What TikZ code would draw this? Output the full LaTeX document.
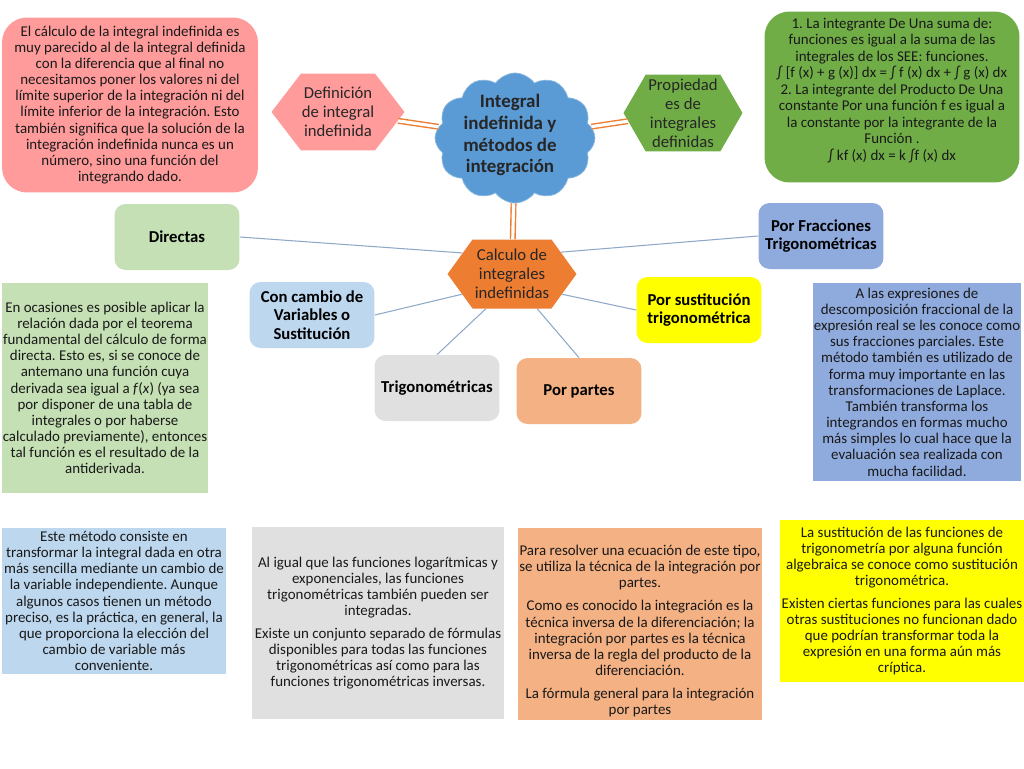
\documentclass[tikz,border=0pt]{standalone}
\usepackage{fontspec}
\setmainfont{Carlito}
\usetikzlibrary{shapes.symbols}
\frenchspacing
\definecolor{pinkFill}{HTML}{FF9B9B}
\definecolor{greenFill}{HTML}{70AD47}
\definecolor{cloudBlue}{HTML}{5B9BD5}
\definecolor{calcOrange}{HTML}{ED7D31}
\definecolor{lightGreen}{HTML}{C5E0B4}
\definecolor{lightBlue}{HTML}{BDD7EE}
\definecolor{lightGray}{HTML}{E0E0E0}
\definecolor{peachFill}{HTML}{F4B183}
\definecolor{yellowFill}{HTML}{FFFF00}
\definecolor{fracBlue}{HTML}{8FAADC}
\definecolor{orangeLine}{HTML}{ED7D31}
\definecolor{linkBlue}{HTML}{8EA9C8}
\begin{document}
\begin{tikzpicture}[x=0.02cm, y=-0.02cm,
    textBox/.style={rectangle, inner sep=0pt, align=center, text=black!90, font=\fontsize{8.5}{9.2}\selectfont},
    hexStyle/.style={signal, signal to=east and west, signal pointer angle=105, inner sep=0pt, align=center, text=black!85, font=\fontsize{9.5}{10.8}\selectfont},
    methodBox/.style={rectangle, rounded corners=0.22cm, minimum width=2.5cm, minimum height=1.32cm, inner sep=0pt, align=center, font=\bfseries\fontsize{9.5}{10.6}\selectfont},
    dblLink/.style={draw=orangeLine, line width=0.8pt, double=white, double distance=1.8pt},
    thinLink/.style={draw=linkBlue, line width=0.6pt}]

    \useasboundingbox[fill=white] (0,0) rectangle (1024,768);

    % centre
    \node[cloud, cloud puffs=12, cloud puff arc=110, aspect=1.2, fill=cloudBlue, draw=cloudBlue!70!white, minimum width=3.2cm, minimum height=2.6cm](cloud) at (515, 138) {};
    \node[align=center, font=\bfseries\fontsize{10.8}{12.5}\selectfont, text=black!85](cloudText) at (510, 135) {Integral\\indefinida y\\métodos de\\integración};

    \node[hexStyle, fill=pinkFill, minimum width=2.66cm, minimum height=1.54cm](defHex) at (338, 112) {Definición\\de integral\\indefinida};
    \node[hexStyle, fill=greenFill, signal pointer angle=120, minimum width=2.38cm, minimum height=1.54cm](propHex) at (683, 113) {Propiedad\\es de\\integrales\\definidas};
    \node[hexStyle, fill=calcOrange, signal pointer angle=108, minimum width=2.58cm, minimum height=1.38cm](calc) at (512, 274) {Calculo de\\integrales\\indefinidas};

    \node[textBox, fill=pinkFill, rounded corners=0.5cm, minimum width=5.12cm, minimum height=3.5cm](defText) at (130, 105) {El cálculo de la integral indefinida es\\muy parecido al de la integral definida\\con la diferencia que al final no\\necesitamos poner los valores ni del\\límite superior de la integración ni del\\límite inferior de la integración. Esto\\también significa que la solución de la\\integración indefinida nunca es un\\número, sino una función del\\integrando dado.};
    \node[textBox, fill=greenFill, rounded corners=0.5cm, minimum width=5.1cm, minimum height=3.42cm, font=\fontsize{8.5}{9.4}\selectfont](propText) at (892, 97) {1. La integrante De Una suma de:\\funciones es igual a la suma de las\\integrales de los SEE: funciones.\\∫ [f (x) + g (x)] dx = ∫ f (x) dx + ∫ g (x) dx\\2. La integrante del Producto De Una\\constante Por una función f es igual a\\la constante por la integrante de la\\Función .\\∫ kf (x) dx = k ∫f (x) dx\rule[-9pt]{0pt}{0pt}};

    % metodos
    \node[methodBox, fill=lightGreen](directas) at (177, 237) {Directas};
    \node[methodBox, fill=fracBlue](fracciones) at (821, 236) {Por Fracciones\\Trigonométricas};
    \node[methodBox, fill=lightBlue](cambio) at (312, 315) {Con cambio de\\Variables o\\Sustitución};
    \node[methodBox, fill=yellowFill](sustTrig) at (699, 310) {Por sustitución\\trigonométrica};
    \node[methodBox, fill=lightGray](trig) at (437, 388) {Trigonométricas};
    \node[methodBox, fill=peachFill](partes) at (579, 391) {Por partes};

    % textos
    \node[textBox, fill=lightGreen, minimum width=4.12cm, minimum height=4.2cm](directText) at (105, 388) {En ocasiones es posible aplicar la\\relación dada por el teorema\\fundamental del cálculo de forma\\directa. Esto es, si se conoce de\\antemano una función cuya\\derivada sea igual a \textit{f}(\textit{x}) (ya sea\\por disponer de una tabla de\\integrales o por haberse\\calculado previamente), entonces\\tal función es el resultado de la\\antiderivada.};
    \node[textBox, fill=fracBlue, minimum width=4.18cm, minimum height=3.98cm](fracText) at (917, 382) {A las expresiones de\\descomposición fraccional de la\\expresión real se les conoce como\\sus fracciones parciales. Este\\método también es utilizado de\\forma muy importante en las\\transformaciones de Laplace.\\También transforma los\\integrandos en formas mucho\\más simples lo cual hace que la\\evaluación sea realizada con\\mucha facilidad.};
    \node[textBox, fill=lightBlue, minimum width=4.48cm, minimum height=2.94cm](cambioText) at (114, 601) {Este método consiste en\\transformar la integral dada en otra\\más sencilla mediante un cambio de\\la variable independiente. Aunque\\algunos casos tienen un método\\preciso, es la práctica, en general, la\\que proporciona la elección del\\cambio de variable más\\conveniente.};
    \node[textBox, fill=lightGray, minimum width=5.06cm, minimum height=3.86cm](trigText) at (378, 623) {Al igual que las funciones logarítmicas y\\exponenciales, las funciones\\trigonométricas también pueden ser\\integradas.\\[3.5pt]Existe un conjunto separado de fórmulas\\disponibles para todas las funciones\\trigonométricas así como para las\\funciones trigonométricas inversas.};
    \node[textBox, fill=peachFill, minimum width=4.88cm, minimum height=3.84cm](partesText) at (640, 624) {\rule{0pt}{14pt}Para resolver una ecuación de este tipo,\\se utiliza la técnica de la integración por\\partes.\\[4pt]Como es conocido la integración es la\\técnica inversa de la diferenciación; la\\integración por partes es la técnica\\inversa de la regla del producto de la\\diferenciación.\\[4pt]La fórmula general para la integración\\por partes};
    \node[textBox, fill=yellowFill, minimum width=4.88cm, minimum height=3.24cm](sustText) at (902, 601) {La sustitución de las funciones de\\trigonometría por alguna función\\algebraica se conoce como sustitución\\trigonométrica.\\[3.5pt]Existen ciertas funciones para las cuales\\otras sustituciones no funcionan dado\\que podrían transformar toda la\\expresión en una forma aún más\\críptica.};

    \draw[dblLink] (defHex) -- (cloud);
    \draw[dblLink] (cloud) -- (propHex);
    \draw[dblLink] (cloud) -- (calc);

    \draw[thinLink] (directas.east) -- (calc.157);
    \draw[thinLink] (calc.24) -- (fracciones.west);
    \draw[thinLink] (cambio.east) -- (calc.202);
    \draw[thinLink] (calc.338) -- (sustTrig.west);
    \draw[thinLink] (trig.north) -- (calc.233);
    \draw[thinLink] (calc.306) -- (partes.north);
\end{tikzpicture}
\end{document}
